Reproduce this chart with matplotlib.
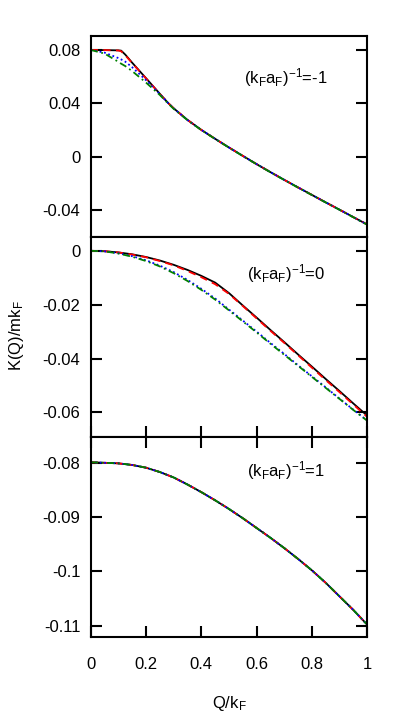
import numpy as np
from matplotlib import pyplot as plt
from matplotlib.ticker import FormatStrFormatter

plt.rcParams['font.family'] = ['Liberation Sans', 'DejaVu Sans']
plt.rcParams['mathtext.default'] = 'regular'

# Q/kF (panel superior con punto extra en el codo)
q1 = [0.0, 0.05, 0.1, 0.11, 0.125, 0.15, 0.2, 0.25, 0.28, 0.3, 0.35, 0.4, 0.45, 0.5,
      0.55, 0.6, 0.65, 0.7, 0.75, 0.8, 0.85, 0.9, 0.95, 1.0]
q = [0.0, 0.05, 0.1, 0.15, 0.2, 0.25, 0.3, 0.35, 0.4, 0.45, 0.5,
     0.55, 0.6, 0.65, 0.7, 0.75, 0.8, 0.85, 0.9, 0.95, 1.0]

# (kF aF)^-1 = -1
k1_black = [0.0800, 0.0799, 0.0797, 0.0795, 0.0765, 0.0704, 0.0588, 0.0471, 0.0402, 0.0362, 0.0275,
            0.0200, 0.0133, 0.0068, 0.0005, -0.0057, -0.0117, -0.0175, -0.0232, -0.0288, -0.0344,
            -0.0399, -0.0455, -0.0510]
k1_red = [0.0800, 0.0799, 0.0796, 0.0790, 0.0760, 0.0701, 0.0586, 0.0470, 0.0402, 0.0362, 0.0275,
          0.0200, 0.0133, 0.0068, 0.0005, -0.0057, -0.0117, -0.0175, -0.0232, -0.0288, -0.0344,
          -0.0399, -0.0455, -0.0510]
k1_blue = [0.0800, 0.0780, 0.0739, 0.0729, 0.0712, 0.0670, 0.0573, 0.0468, 0.0401, 0.0361, 0.0274,
           0.0200, 0.0133, 0.0068, 0.0005, -0.0057, -0.0117, -0.0175, -0.0232, -0.0288, -0.0344,
           -0.0399, -0.0455, -0.0511]
k1_green = [0.0800, 0.0773, 0.0711, 0.0697, 0.0679, 0.0641, 0.0555, 0.0462, 0.0398, 0.0358, 0.0273,
            0.0199, 0.0132, 0.0067, 0.0004, -0.0058, -0.0118, -0.0176, -0.0233, -0.0289, -0.0345,
            -0.0400, -0.0456, -0.0512]

# (kF aF)^-1 = 0
k2_black = [0.0000, -0.00015, -0.0006, -0.0013, -0.0023, -0.0036, -0.0052, -0.0071, -0.0093, -0.0118, -0.0157,
            -0.0203, -0.0248, -0.0294, -0.0339, -0.0385, -0.0430, -0.0476, -0.0521, -0.0567, -0.0612]
k2_red = [0.0000, -0.00015, -0.0006, -0.0014, -0.0024, -0.0038, -0.0054, -0.0075, -0.0098, -0.0124, -0.0160,
          -0.0205, -0.0251, -0.0297, -0.0342, -0.0388, -0.0434, -0.0480, -0.0525, -0.0571, -0.0617]
k2_blue = [0.0000, -0.0002, -0.0009, -0.0020, -0.0035, -0.0055, -0.0079, -0.0108, -0.0141, -0.0177, -0.0218,
           -0.0259, -0.0300, -0.0342, -0.0383, -0.0425, -0.0466, -0.0507, -0.0549, -0.0590, -0.0630]
k2_green = [0.0000, -0.0002, -0.0010, -0.0022, -0.0038, -0.0058, -0.0083, -0.0112, -0.0145, -0.0181, -0.0221,
            -0.0262, -0.0303, -0.0345, -0.0386, -0.0427, -0.0468, -0.0509, -0.0550, -0.0591, -0.0631]

# (kF aF)^-1 = 1
k3_all = [-0.0799, -0.0800, -0.0801, -0.0804, -0.0809, -0.0817, -0.0827, -0.0840, -0.0854, -0.0869, -0.0885,
          -0.0902, -0.0920, -0.0938, -0.0957, -0.0977, -0.0998, -0.1021, -0.1046, -0.1071, -0.1098]

paneles = [
    (q1, k1_black, k1_red, k1_blue, k1_green, '-1', (-0.06, 0.0905), [0.08, 0.04, 0, -0.04], 0.795),
    (q, k2_black, k2_red, k2_blue, k2_green, '0', (-0.069, 0.0053), [0, -0.02, -0.04, -0.06], 0.815),
    (q, k3_all, k3_all, k3_all, k3_all, '1', (-0.112, -0.0752), [-0.08, -0.09, -0.1, -0.11], 0.83),
]

fig = plt.figure(figsize=(4.09, 7.15), dpi=100)
left, right = 0.2218, 0.898
bordes = [0.9497, 0.6692, 0.3892, 0.1095]

for i, (qq, kb, kr, kbl, kg, etiqueta, ylim, yticks, ytxt) in enumerate(paneles):
    ax = fig.add_axes([left, bordes[i + 1], right - left, bordes[i] - bordes[i + 1]])
    ax.plot(qq, kb, color='black', lw=1.3, ls='-')
    ax.plot(qq, kr, color='#ff0000', lw=1.3, ls=(0, (4, 3)))
    ax.plot(qq, kbl, color='#0000ff', lw=1.3, ls=(0, (1, 1.5)))
    ax.plot(qq, kg, color='#008000', lw=1.3, ls=(0, (4, 2, 1, 2)))
    ax.set_xlim(0, 1)
    ax.set_ylim(*ylim)
    ax.set_yticks(yticks)
    ax.yaxis.set_major_formatter(FormatStrFormatter('%g'))
    ax.set_xticks([0, 0.2, 0.4, 0.6, 0.8, 1])
    ax.xaxis.set_major_formatter(FormatStrFormatter('%g'))
    ax.tick_params(axis='y', direction='in', length=8, width=1.5, left=True, right=True,
                   labelsize=12, pad=7.5)
    ax.tick_params(axis='x', direction='in', length=8, width=1.5, labelsize=12, pad=14.5,
                   bottom=(i > 0), top=(i == 2), labelbottom=(i == 2))
    for sp in ax.spines.values():
        sp.set_linewidth(1.5)
    ax.text(0.706, ytxt, '(k$_F$a$_F$)$^{-1}$=' + etiqueta, transform=ax.transAxes,
            ha='center', va='center', fontsize=12)
    if i == 2:
        ax.set_xlabel('Q/k$_F$', fontsize=12, labelpad=16)

fig.text(0.04, 0.53, 'K(Q)/mk$_F$', rotation=90, ha='center', va='center', fontsize=12)

plt.savefig('out.png', dpi=100)
